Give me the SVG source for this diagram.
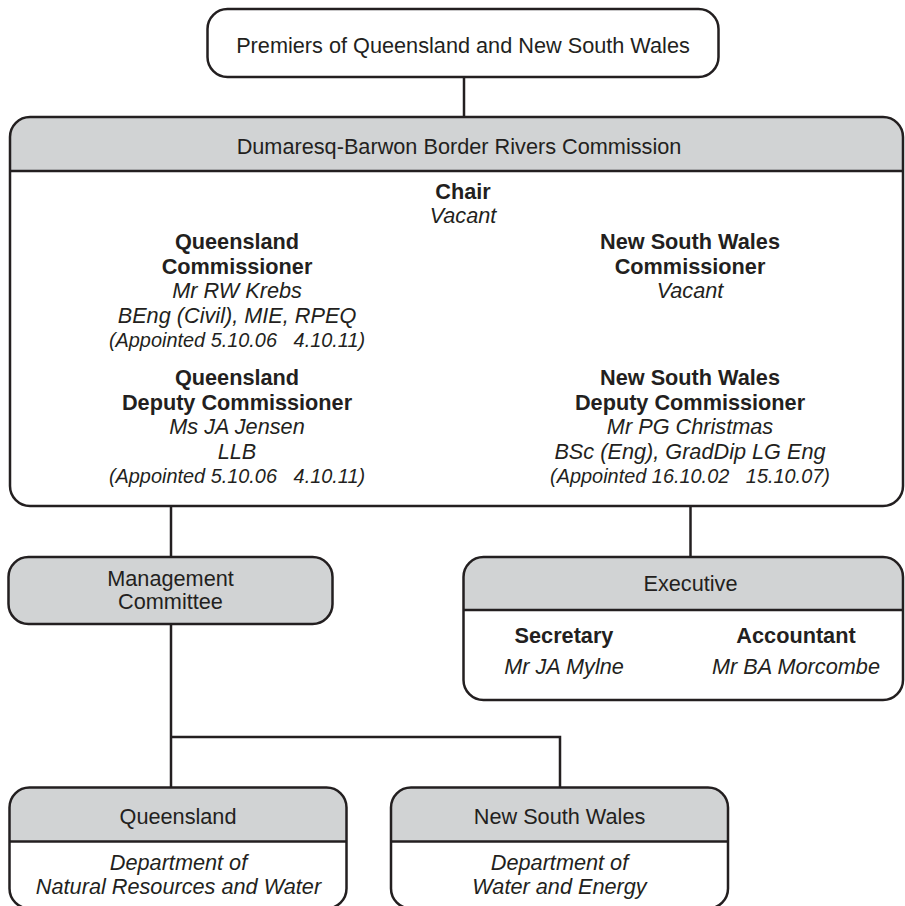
<svg xmlns="http://www.w3.org/2000/svg" width="905" height="906" viewBox="0 0 905 906">
<style>
.box{fill:#ffffff;stroke:#231f20;stroke-width:2.5}
.hdr{fill:#d1d3d4;stroke:none}
.div{stroke:#231f20;stroke-width:2.5;fill:none}
.con{stroke:#231f20;stroke-width:2.5;fill:none}
text{font-family:"Liberation Sans",Arial,sans-serif;font-size:21.7px;fill:#231f20;text-anchor:middle}
.b{font-weight:bold}
.i{font-style:italic}
.s{font-size:19.9px;font-style:italic;white-space:pre}
</style>
<rect width="905" height="906" fill="#ffffff"/>
<g id="connectors">
<path class="con" d="M464,77 V117"/>
<path class="con" d="M171,506 V557"/>
<path class="con" d="M690.5,506 V557"/>
<path class="con" d="M171,624 V787.5"/>
<path class="con" d="M171,737 H560 V787.5"/>
</g>
<g id="premiers">
<rect class="box" x="207.5" y="9" width="511" height="68" rx="20"/>
<text x="463" y="52.5">Premiers of Queensland and New South Wales</text>
</g>
<g id="commission">
<path class="hdr" d="M10,171 V137 A20,20 0 0 1 30,117 H883 A20,20 0 0 1 903,137 V171 Z"/>
<rect class="box" x="10" y="117" width="893" height="389" rx="20" style="fill:none"/>
<line class="div" x1="10" y1="171" x2="903" y2="171"/>
<text x="459" y="154">Dumaresq-Barwon Border Rivers Commission</text>
<text class="b" x="463" y="198.5">Chair</text>
<text class="i" x="463" y="222.5">Vacant</text>
<text class="b" x="237" y="249">Queensland</text>
<text class="b" x="237" y="273.5">Commissioner</text>
<text class="i" x="237" y="298">Mr RW Krebs</text>
<text class="i" x="237" y="322.5">BEng (Civil), MIE, RPEQ</text>
<text class="s" x="237" y="347" xml:space="preserve">(Appointed 5.10.06   4.10.11)</text>
<text class="b" x="690" y="249">New South Wales</text>
<text class="b" x="690" y="273.5">Commissioner</text>
<text class="i" x="690" y="298">Vacant</text>
<text class="b" x="237" y="385">Queensland</text>
<text class="b" x="237" y="409.5">Deputy Commissioner</text>
<text class="i" x="237" y="434">Ms JA Jensen</text>
<text class="i" x="237" y="458.5">LLB</text>
<text class="s" x="237" y="483" xml:space="preserve">(Appointed 5.10.06   4.10.11)</text>
<text class="b" x="690" y="385">New South Wales</text>
<text class="b" x="690" y="409.5">Deputy Commissioner</text>
<text class="i" x="690" y="434">Mr PG Christmas</text>
<text class="i" x="690" y="458.5">BSc (Eng), GradDip LG Eng</text>
<text class="s" x="690" y="483" xml:space="preserve">(Appointed 16.10.02   15.10.07)</text>
</g>
<g id="management">
<rect class="box" x="8.5" y="557" width="324" height="67" rx="20" style="fill:#d1d3d4"/>
<text x="170.5" y="586">Management</text>
<text x="170.5" y="609">Committee</text>
</g>
<g id="executive">
<path class="hdr" d="M463.5,610 V577 A20,20 0 0 1 483.5,557 H883 A20,20 0 0 1 903,577 V610 Z"/>
<rect class="box" x="463.5" y="557" width="439.5" height="143" rx="20" style="fill:none"/>
<line class="div" x1="463.5" y1="610" x2="903" y2="610"/>
<text x="690.5" y="591">Executive</text>
<text class="b" x="564" y="643">Secretary</text>
<text class="i" x="564" y="674">Mr JA Mylne</text>
<text class="b" x="796" y="643">Accountant</text>
<text class="i" x="796" y="674">Mr BA Morcombe</text>
</g>
<g id="qld-dept">
<path class="hdr" d="M9.5,841.5 V807.5 A20,20 0 0 1 29.5,787.5 H326.5 A20,20 0 0 1 346.5,807.5 V841.5 Z"/>
<rect class="box" x="9.5" y="787.5" width="337" height="121" rx="20" style="fill:none"/>
<line class="div" x1="9.5" y1="841.5" x2="346.5" y2="841.5"/>
<text x="178" y="824">Queensland</text>
<text class="i" x="178.5" y="870">Department of</text>
<text class="i" x="178.5" y="893.5">Natural Resources and Water</text>
</g>
<g id="nsw-dept">
<path class="hdr" d="M391,841.5 V807.5 A20,20 0 0 1 411,787.5 H708 A20,20 0 0 1 728,807.5 V841.5 Z"/>
<rect class="box" x="391" y="787.5" width="337" height="121" rx="20" style="fill:none"/>
<line class="div" x1="391" y1="841.5" x2="728" y2="841.5"/>
<text x="559.5" y="824">New South Wales</text>
<text class="i" x="559.5" y="870">Department of</text>
<text class="i" x="559.5" y="893.5">Water and Energy</text>
</g>
</svg>
